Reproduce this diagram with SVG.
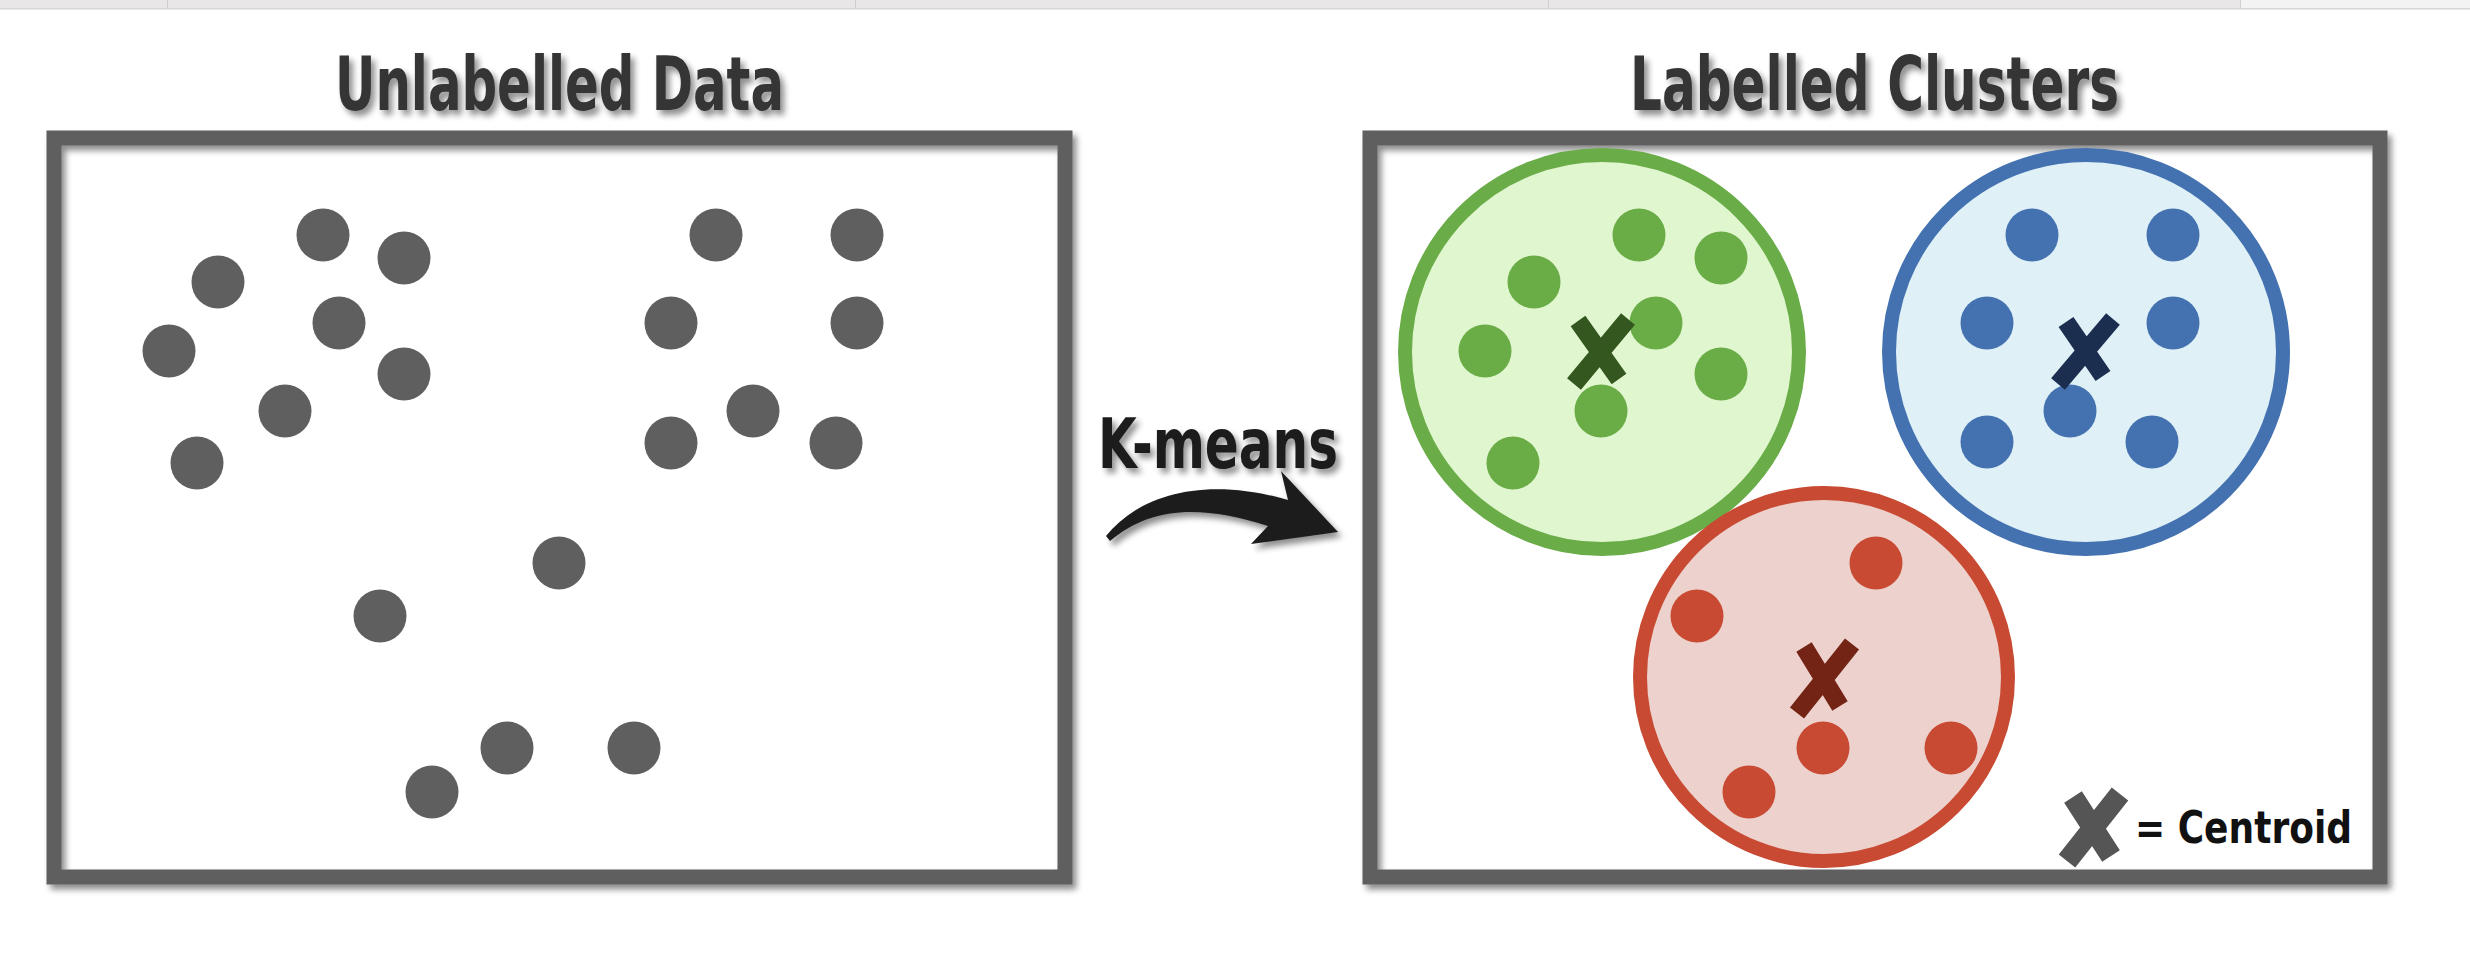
<svg xmlns="http://www.w3.org/2000/svg" width="2470" height="962" viewBox="0 0 2470 962">
<defs>
<filter id="sh" x="-10%" y="-10%" width="130%" height="140%">
<feGaussianBlur in="SourceAlpha" stdDeviation="3"/>
<feOffset dx="4" dy="5" result="b"/>
<feComponentTransfer><feFuncA type="linear" slope="0.45"/></feComponentTransfer>
<feMerge><feMergeNode/><feMergeNode in="SourceGraphic"/></feMerge>
</filter>
</defs>
<style>
.box{fill:none;stroke:#5f5f5f;stroke-width:15}
.title{font-family:"Liberation Sans Narrow","DejaVu Sans Condensed","Liberation Sans",sans-serif;font-weight:bold;font-size:74px;fill:#343434}
.gd{fill:#5f5f5f}
.g{fill:#6aac46}
.b{fill:#4472b0}
.r{fill:#c84a33}
.x{stroke-width:18;stroke-linecap:butt;fill:none}
</style>
<rect x="0" y="0" width="2470" height="962" fill="#ffffff"/>
<g id="topbar">
<rect x="0" y="0" width="2240" height="8" fill="#e8e6e6"/>
<rect x="2240" y="0" width="230" height="8" fill="#f4f3f3"/>
<rect x="0" y="8" width="2470" height="1.5" fill="#d6d6d6"/>
<rect x="167" y="0" width="1" height="8" fill="#cfcfcf"/>
<rect x="855" y="0" width="1" height="8" fill="#cfcfcf"/>
<rect x="1548" y="0" width="1" height="8" fill="#cfcfcf"/>
<rect x="2240" y="0" width="1" height="8" fill="#cfcfcf"/>
</g>
<g id="unlabelled">
<text class="title" x="335" y="110" textLength="449" lengthAdjust="spacingAndGlyphs" filter="url(#sh)">Unlabelled Data</text>
<rect class="box" x="54" y="138" width="1011" height="739" filter="url(#sh)"/>
<g id="raw-points">
<circle class="gd" cx="323" cy="235" r="26.5"/>
<circle class="gd" cx="404" cy="258" r="26.5"/>
<circle class="gd" cx="218" cy="282" r="26.5"/>
<circle class="gd" cx="169" cy="351" r="26.5"/>
<circle class="gd" cx="339" cy="323" r="26.5"/>
<circle class="gd" cx="404" cy="374" r="26.5"/>
<circle class="gd" cx="285" cy="411" r="26.5"/>
<circle class="gd" cx="197" cy="463" r="26.5"/>
<circle class="gd" cx="716" cy="235" r="26.5"/>
<circle class="gd" cx="857" cy="235" r="26.5"/>
<circle class="gd" cx="671" cy="323" r="26.5"/>
<circle class="gd" cx="857" cy="323" r="26.5"/>
<circle class="gd" cx="753" cy="411" r="26.5"/>
<circle class="gd" cx="671" cy="443" r="26.5"/>
<circle class="gd" cx="836" cy="443" r="26.5"/>
<circle class="gd" cx="559" cy="563" r="26.5"/>
<circle class="gd" cx="380" cy="616" r="26.5"/>
<circle class="gd" cx="507" cy="748" r="26.5"/>
<circle class="gd" cx="634" cy="748" r="26.5"/>
<circle class="gd" cx="432" cy="792" r="26.5"/>
</g>
</g>
<g id="connectors">
<g id="kmeans-arrow" filter="url(#sh)">
<text x="1098" y="468" textLength="240" lengthAdjust="spacingAndGlyphs" style="font-family:'Liberation Sans Narrow','DejaVu Sans Condensed','Liberation Sans',sans-serif;font-weight:bold;font-size:70px;fill:#1c1c1c">K-means</text>
<path d="M1106,536 C1140,494 1205,476 1288,500 L1281,471 L1338,532 L1251,544 L1268,526 C1200,504 1150,507 1110,541 Z" fill="#1c1c1c"/>
</g>
</g>
<g id="labelled">
<text class="title" x="1630" y="110" textLength="489" lengthAdjust="spacingAndGlyphs" filter="url(#sh)">Labelled Clusters</text>
<rect class="box" x="1370" y="138" width="1010" height="739" filter="url(#sh)"/>
</g>
<g id="cluster-green">
<circle cx="1602" cy="352" r="197" fill="#e0f6cf" stroke="#6aac48" stroke-width="14"/>
<circle class="g" cx="1639" cy="235" r="26.5"/>
<circle class="g" cx="1721" cy="258" r="26.5"/>
<circle class="g" cx="1534" cy="282" r="26.5"/>
<circle class="g" cx="1656" cy="323" r="26.5"/>
<circle class="g" cx="1485" cy="351" r="26.5"/>
<circle class="g" cx="1721" cy="374" r="26.5"/>
<circle class="g" cx="1601" cy="411" r="26.5"/>
<circle class="g" cx="1513" cy="463" r="26.5"/>
<path class="x" stroke="#33571f" d="M1578,321 L1619,379 M1628,319 L1574,384"/>
</g>
<g id="cluster-blue">
<circle cx="2086" cy="352" r="197" fill="#dff0f7" stroke="#4472b0" stroke-width="14"/>
<circle class="b" cx="2032" cy="235" r="26.5"/>
<circle class="b" cx="2173" cy="235" r="26.5"/>
<circle class="b" cx="1987" cy="323" r="26.5"/>
<circle class="b" cx="2173" cy="323" r="26.5"/>
<circle class="b" cx="2070" cy="411" r="26.5"/>
<circle class="b" cx="1987" cy="442" r="26.5"/>
<circle class="b" cx="2152" cy="442" r="26.5"/>
<path class="x" stroke="#1b2e4f" d="M2066,322 L2103,376 M2113,319 L2058,384"/>
</g>
<g id="cluster-red">
<circle cx="1824" cy="677" r="184" fill="#ecd1cc" stroke="#c84a33" stroke-width="14"/>
<circle class="r" cx="1876" cy="563" r="26.5"/>
<circle class="r" cx="1697" cy="616" r="26.5"/>
<circle class="r" cx="1823" cy="748" r="26.5"/>
<circle class="r" cx="1951" cy="748" r="26.5"/>
<circle class="r" cx="1749" cy="792" r="26.5"/>
<path class="x" stroke="#732414" d="M1804,647 L1840,706 M1852,644 L1797,713"/>
</g>
<g id="legend">
<path d="M2073,797 L2111,856 M2120,794 L2067,861" stroke="#555555" stroke-width="21" fill="none"/>
<text x="2135" y="843" textLength="217" lengthAdjust="spacingAndGlyphs" style="font-family:'Liberation Sans Narrow','DejaVu Sans Condensed','Liberation Sans',sans-serif;font-weight:bold;font-size:44px;fill:#111111">= Centroid</text>
</g>
</svg>
